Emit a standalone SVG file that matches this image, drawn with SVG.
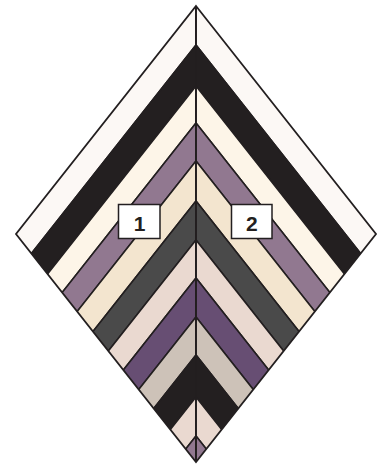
<svg xmlns="http://www.w3.org/2000/svg" width="386" height="465" viewBox="0 0 386 465">
<style>
.b{stroke:#231f20;stroke-width:1.6;stroke-linejoin:miter}
.w{fill:#fcf8f5}.k{fill:#231f20}.c{fill:#fdf5e8}.p{fill:#917890}.e{fill:#f3e5cf}.g{fill:#4a4a4a}.r{fill:#ead9d0}.d{fill:#674e73}.t{fill:#cdc2b8}
.lbl{fill:#ffffff;stroke:#231f20;stroke-width:1.5}
.num{font-family:"Liberation Sans",Arial,sans-serif;font-weight:bold;font-size:21px;fill:#231f20;text-anchor:middle}
</style>
<defs>
<clipPath id="dia"><polygon points="196,6 376,234 196,462 16,234"/></clipPath>
</defs>
<rect width="386" height="465" fill="#ffffff"/>
<g clip-path="url(#dia)">
<g id="side-1">
<polygon class="b w" points="196,-60 -4,193.3 -4,298.3 196,45"/>
<polygon class="b k" points="196,45 -4,298.3 -4,339.3 196,86"/>
<polygon class="b c" points="196,86 -4,339.3 -4,376.3 196,123"/>
<polygon class="b p" points="196,123 -4,376.3 -4,414.3 196,161"/>
<polygon class="b e" points="196,161 -4,414.3 -4,454.3 196,201"/>
<polygon class="b g" points="196,201 -4,454.3 -4,493.3 196,240"/>
<polygon class="b r" points="196,240 -4,493.3 -4,531.3 196,278"/>
<polygon class="b d" points="196,278 -4,531.3 -4,570.3 196,317"/>
<polygon class="b t" points="196,317 -4,570.3 -4,608.3 196,355"/>
<polygon class="b k" points="196,355 -4,608.3 -4,650.3 196,397"/>
<polygon class="b r" points="196,397 -4,650.3 -4,689.3 196,436"/>
<polygon class="b p" points="196,436 -4,689.3 -4,760 196,520"/>
</g>
<g id="side-2">
<polygon class="b w" points="196,-60 396,193.3 396,298.3 196,45"/>
<polygon class="b k" points="196,45 396,298.3 396,339.3 196,86"/>
<polygon class="b c" points="196,86 396,339.3 396,376.3 196,123"/>
<polygon class="b p" points="196,123 396,376.3 396,414.3 196,161"/>
<polygon class="b e" points="196,161 396,414.3 396,454.3 196,201"/>
<polygon class="b g" points="196,201 396,454.3 396,493.3 196,240"/>
<polygon class="b r" points="196,240 396,493.3 396,531.3 196,278"/>
<polygon class="b d" points="196,278 396,531.3 396,570.3 196,317"/>
<polygon class="b t" points="196,317 396,570.3 396,608.3 196,355"/>
<polygon class="b k" points="196,355 396,608.3 396,650.3 196,397"/>
<polygon class="b r" points="196,397 396,650.3 396,689.3 196,436"/>
<polygon class="b p" points="196,436 396,689.3 396,760 196,520"/>
</g>
</g>
<g id="outline">
<line x1="196" y1="6" x2="196" y2="462" stroke="#231f20" stroke-width="1.8"/>
<polygon points="196,6 376,234 196,462 16,234" fill="none" stroke="#231f20" stroke-width="1.8" stroke-linejoin="miter"/>
</g>
<g id="connectors"/>
<g id="label-1">
<rect class="lbl" x="118.5" y="204.5" width="41.5" height="34"/>
<text class="num" x="139.5" y="231">1</text>
</g>
<g id="label-2">
<rect class="lbl" x="231.5" y="204.5" width="40.5" height="34"/>
<text class="num" x="251.8" y="231">2</text>
</g>
</svg>
